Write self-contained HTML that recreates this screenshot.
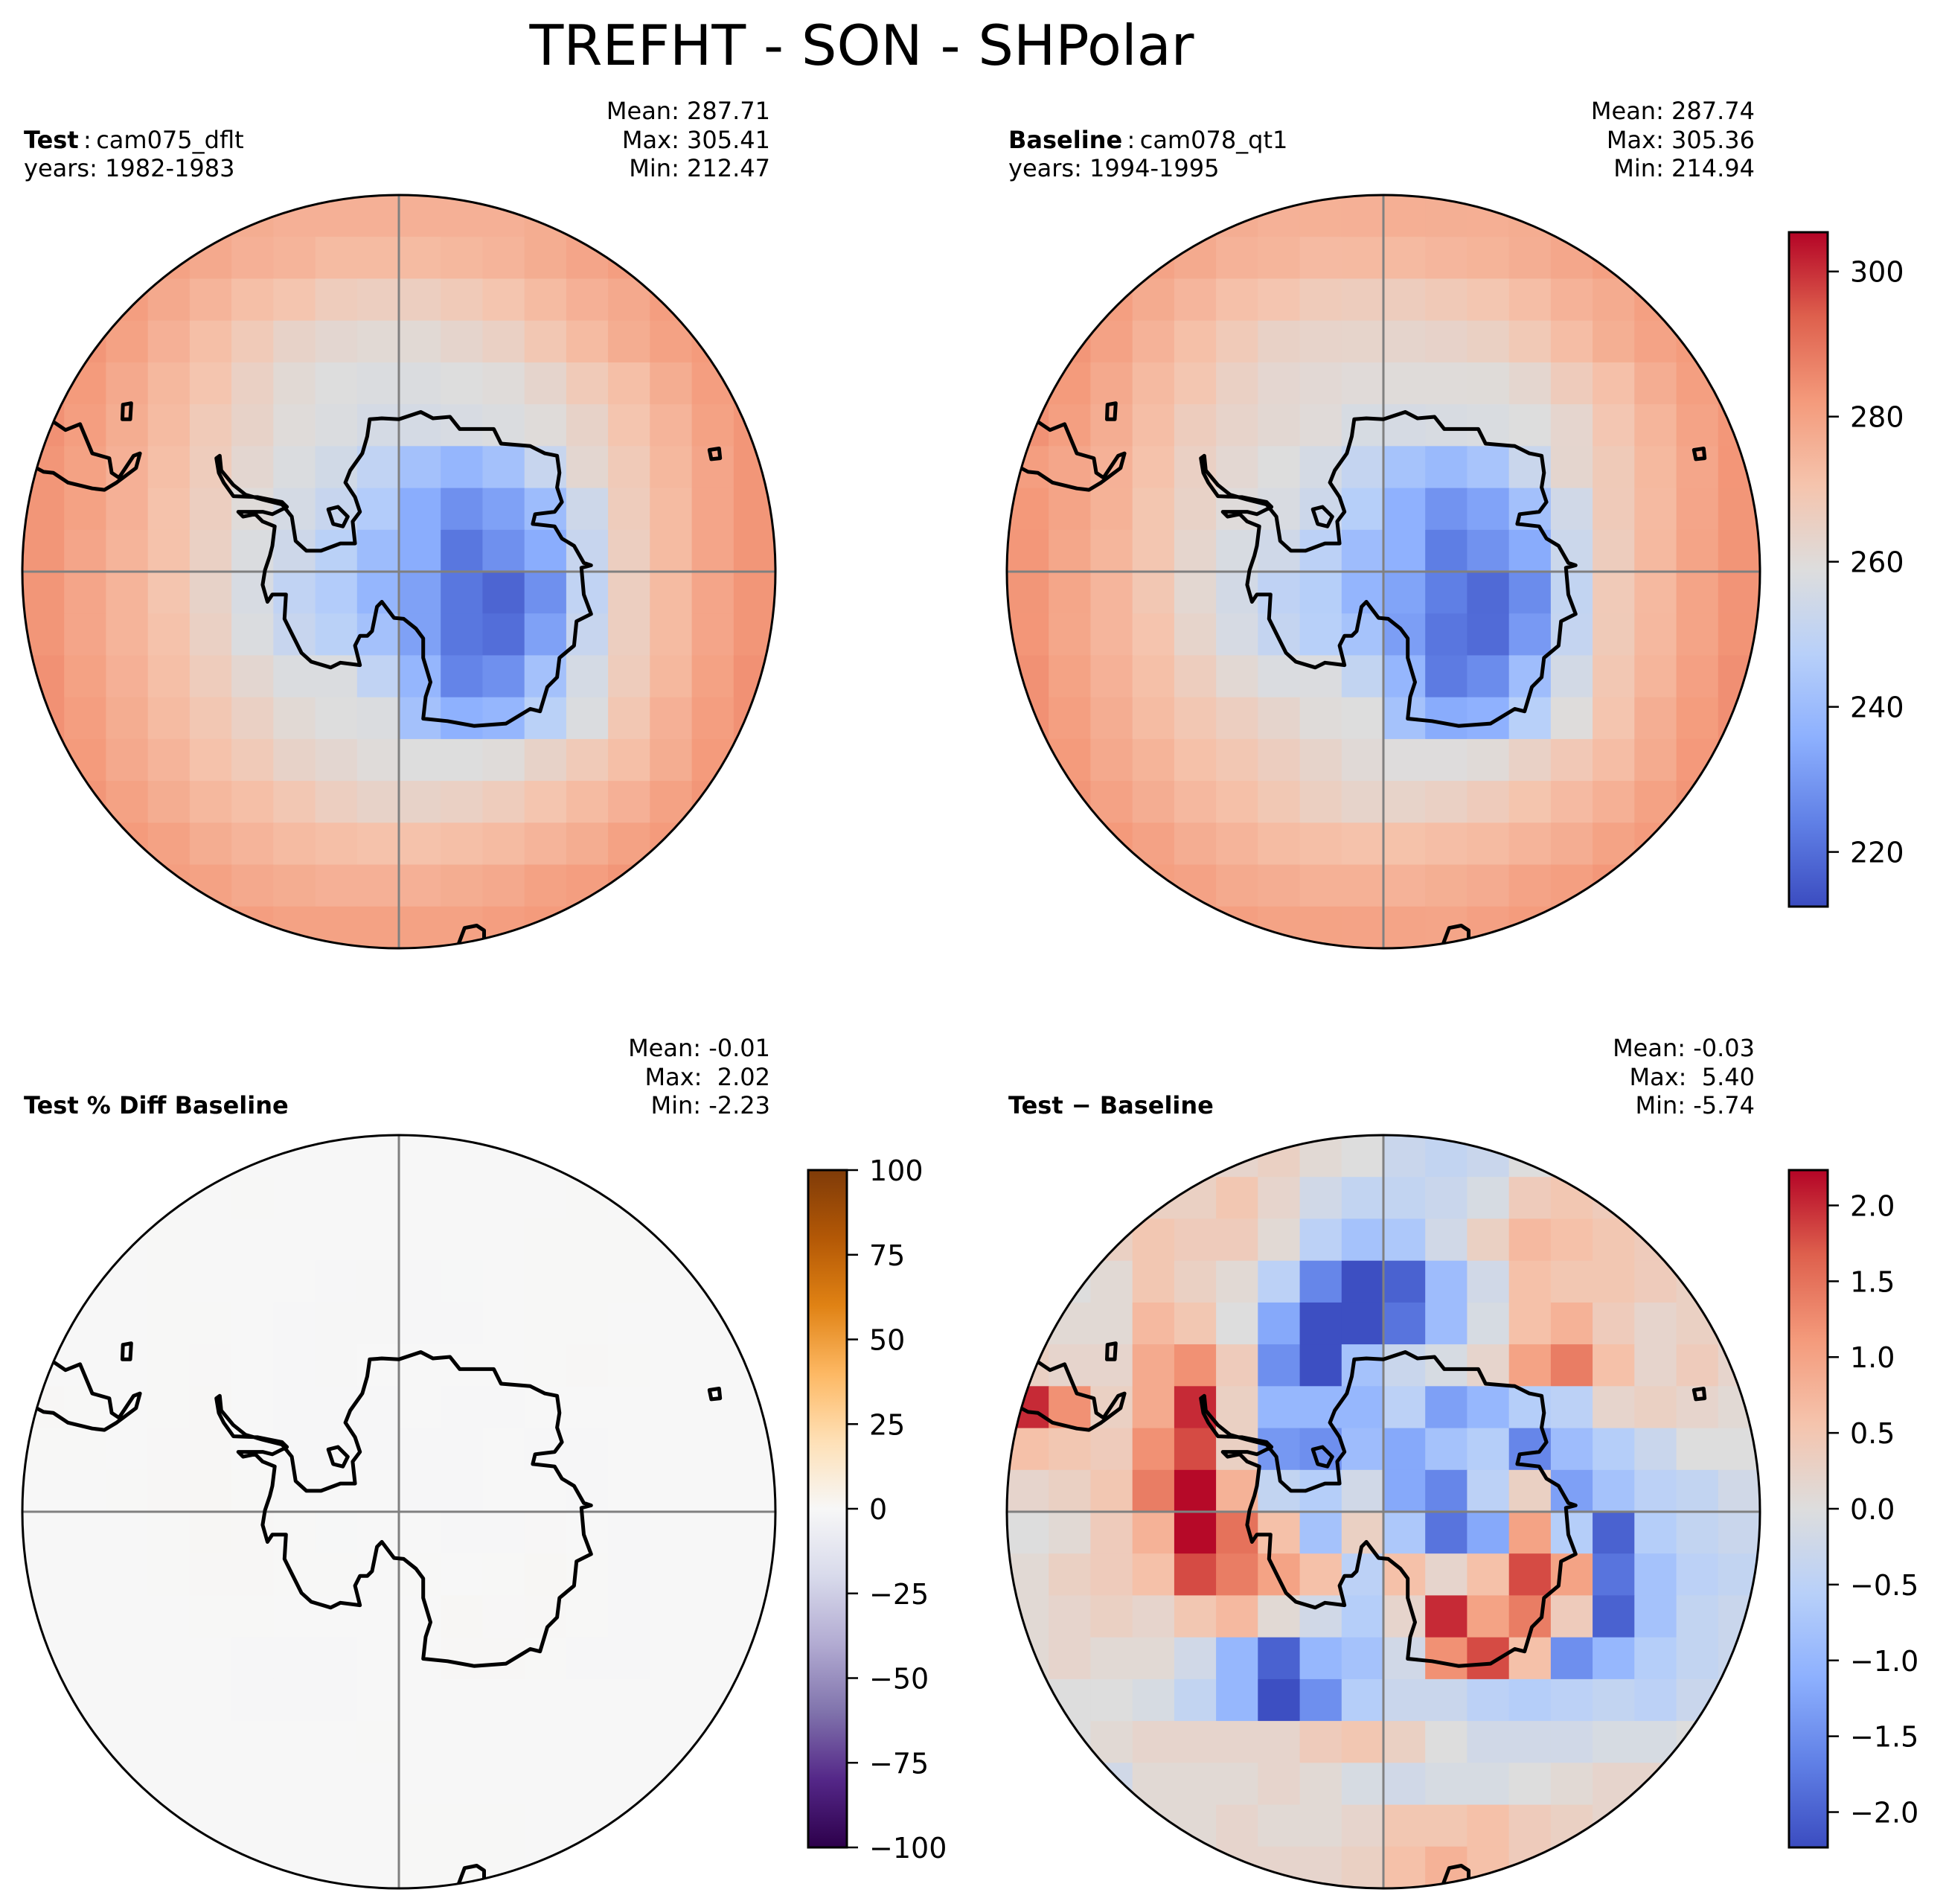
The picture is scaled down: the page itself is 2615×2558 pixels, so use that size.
<!DOCTYPE html>
<html><head><meta charset="utf-8"><style>
html,body{margin:0;padding:0;background:#fff;}
svg{display:block;}
text{font-family:"DejaVu Sans","Liberation Sans",sans-serif;white-space:pre;}
</style></head><body>
<svg id="fig" xmlns="http://www.w3.org/2000/svg" width="2615" height="2558" viewBox="0 0 2615 2558">
<rect width="2615" height="2558" fill="#fff"/>
<text x="1158" y="87" font-size="75" text-anchor="middle">TREFHT - SON - SHPolar</text>
<g id="panels"></g>
</svg>
<script>
// ---- data (18x18 coarse grids, rows top->bottom) ----
const testGrid = [
[282,281,280,279,278,277,276,276,276,276,276,276,277,278,279,280,281,282],
[284,284,284,280,278,276,275,273,273,273,274,275,277,279,281,283,284,284],
[285,285,281,278,275,272,270,267,266,266,268,270,273,276,278,281,283,284],
[286,283,280,276,272,268,264,262,261,261,263,265,269,273,277,280,282,285],
[285,282,278,274,270,265,261,259,258,258,259,260,263,268,272,277,281,284],
[284,281,277,273,268,264,260,258,256,256,257,258,260,264,270,275,280,283],
[283,280,276,272,267,262,258,255,250,242,238,242,252,262,268,274,279,283],
[283,280,276,271,266,260,256,252,246,235,228,232,240,254,267,273,279,283],
[283,279,275,271,265,258,254,248,240,235,222,228,235,252,266,273,279,283],
[283,279,275,270,264,257,250,246,238,232,222,218,228,250,266,273,279,283],
[283,279,275,271,265,258,252,248,242,232,222,220,232,252,266,273,279,283],
[284,280,276,272,267,262,258,258,250,238,225,228,242,256,267,274,280,284],
[284,281,277,273,269,265,261,259,258,242,236,238,248,258,269,276,281,284],
[285,282,278,275,271,268,264,262,260,259,259,260,264,268,272,277,282,285],
[286,283,280,277,274,272,269,266,264,264,265,267,270,273,276,280,283,286],
[286,284,282,280,277,275,273,272,271,271,272,273,275,277,280,282,285,287],
[287,285,283,281,280,278,277,276,276,276,277,278,280,281,283,285,286,287],
[288,287,285,283,282,281,280,280,280,280,280,281,282,283,285,286,287,288]];
const diffGrid = [
[0,0,0,0,0,0.2,0.3,0.1,0,-0.3,-0.4,-0.3,0,0,0,0,0,0],
[0,0,0,0.3,0.3,0.5,0.2,-0.2,-0.4,-0.4,-0.3,-0.1,0.4,0.5,0.4,0.3,0,0],
[0,0.1,0.3,0.5,0.4,0.4,0.1,-0.5,-0.8,-0.7,-0.2,0.3,0.7,0.6,0.5,0.4,0.2,0],
[0,0,0.1,0.5,0.3,0.1,-0.5,-1.6,-2.2,-2.0,-0.9,-0.2,0.6,0.5,0.5,0.4,0.3,0],
[0.2,0.1,0.1,0.7,0.5,0,-1.2,-2.2,-2.2,-1.8,-0.9,-0.1,0.6,0.8,0.4,0.2,0.3,0.1],
[0.3,0.2,0.2,0.9,1.2,0.4,-1.5,-2.2,-0.8,-0.3,-0.1,0.2,1.0,1.4,0.6,0.2,0.4,0.2],
[2.0,1.2,0.3,0.9,2.0,0.3,-1.0,-1.0,-1.0,-0.5,-1.3,-1.0,-0.6,-0.5,0.2,0.3,0.2,0.1],
[0.6,0.5,0.4,1.2,1.8,0.3,-1.4,-1.5,-0.9,-1.2,-0.8,-0.6,-1.6,-0.9,-0.6,-0.3,0,0],
[0.2,0.3,0.5,1.4,2.2,0.8,-0.4,-0.6,-0.2,-1.2,-1.6,-0.5,0.3,-1.3,-0.8,-0.5,-0.4,-0.2],
[0,0.1,0.4,0.8,2.2,1.5,0.6,-0.8,0.3,-0.7,-1.8,-1.2,1.0,-0.6,-2.0,-0.6,-0.4,-0.3],
[0.1,0.3,0.4,0.6,1.8,1.4,1.0,0.6,-0.5,0.6,0.2,0.6,1.8,1.0,-1.8,-0.8,-0.5,-0.4],
[0.1,0.2,0.3,0.2,0.5,0.7,0.1,-0.2,-0.6,0.2,2.0,1.0,1.4,0.4,-2.0,-0.8,-0.4,-0.3],
[0.1,0.2,0.1,0.1,-0.2,-1.0,-2.0,-1.0,-0.8,-0.2,1.2,1.8,0.6,-1.5,-1.0,-0.6,-0.4,-0.3],
[0,0,0,-0.1,-0.4,-1.0,-2.2,-1.5,-0.6,-0.3,-0.3,-0.5,-0.6,-0.5,-0.4,-0.5,-0.3,0],
[0,0,0.1,0.2,0.2,0.2,0.2,0.4,0.5,0.3,0,-0.2,-0.2,-0.2,-0.1,-0.1,0,0],
[0,0,-0.2,0.1,0.1,0.1,0.2,0.1,-0.1,-0.2,-0.1,-0.1,0,0.1,0.2,0.2,0,0],
[0,0,0,0.1,0.1,0.2,0.1,0.1,0.2,0.5,0.5,0.6,0.4,0.3,0.2,0,0,0],
[0,0,0,0,0,0.2,0.2,0.2,0.3,0.6,0.8,0.6,0.4,0,0,0,0,0]];
const absTicks = [220,240,260,280,300];
const absRange = [212.47,305.41];
const pctTicks = [-100,-75,-50,-25,0,25,50,75,100];
const pctRange = [-100,100];
const diffTicks = [-2.0,-1.5,-1.0,-0.5,0.0,0.5,1.0,1.5,2.0];
const diffRange = [-2.233,2.233];

// ---- colormaps ----
const coolwarm=[[59,76,192],[96,128,230],[141,176,254],[184,208,249],[221,221,221],[245,196,173],[244,154,123],[222,96,77],[180,4,38]];
const puorR=[[45,0,75],[84,39,136],[128,115,172],[178,171,210],[216,218,235],[247,247,247],[254,224,182],[253,184,99],[224,130,20],[179,88,6],[127,59,8]];
function cmap(stops,t){t=Math.max(0,Math.min(1,t));const n=stops.length-1;const f=t*n;const i=Math.min(n-1,Math.floor(f));const u=f-i;const a=stops[i],b=stops[i+1];
return 'rgb('+a.map((v,k)=>Math.round(v+(b[k]-v)*u)).join(',')+')';}

const NS='http://www.w3.org/2000/svg';
function mk(tag,attrs,parent){const e=document.createElementNS(NS,tag);for(const k in attrs)e.setAttribute(k,attrs[k]);parent.appendChild(e);return e;}
const root=document.getElementById('panels');
const R=506;
const ant=[[720,470],[745,468],[780,470],[825,455],[850,468],[885,465],[905,490],[975,490],[990,520],[1050,525],[1080,540],[1105,545],[1110,580],[1105,610],[1115,640],[1100,660],[1060,665],[1055,685],[1100,690],[1115,715],[1140,730],[1160,765],[1175,770],[1155,775],[1160,830],[1175,870],[1145,885],[1140,935],[1110,960],[1105,1000],[1085,1020],[1070,1070],[1050,1065],[1000,1095],[935,1100],[880,1090],[830,1085],[835,1040],[845,1010],[830,960],[830,920],[815,900],[790,880],[770,878],[745,845],[735,855],[725,905],[715,915],[700,915],[690,935],[700,975],[660,970],[640,980],[600,968],[580,950],[560,910],[545,880],[548,830],[520,830],[510,845],[500,810],[505,780],[515,750],[520,730],[525,690],[500,680],[485,665],[460,670],[450,660],[500,660],[520,665],[550,650],[540,640],[490,630],[440,628],[420,600],[410,580],[405,550],[412,545],[415,575],[440,605],[465,625],[500,635],[540,645],[560,670],[568,720],[590,740],[620,740],[660,725],[690,725],[685,680],[700,660],[690,630],[670,600],[680,575],[705,540],[715,505]];
const sam=[[70,475],[95,492],[125,480],[150,540],[185,550],[190,580],[205,590],[235,545],[248,540],[240,570],[200,600],[175,615],[150,612],[100,600],[70,580],[50,578],[35,570],[0,560]];
const aus=[[895,1570],[900,1555],[915,1515],[940,1510],[955,1520],[955,1540],[965,1570]];
const isl1=[[213,440],[230,437],[228,470],[212,470]];
const isl2=[[1418,533],[1438,530],[1440,550],[1422,552]];
const isl3=[[635,655],[655,650],[675,670],[665,690],[645,685]];
function pts(arr,cx,cy){return arr.map(p=>((p[0]-780)/1.529+cx).toFixed(1)+','+((p[1]-783)/1.529+cy).toFixed(1)).join(' ');}

function panel(id,cx,cy,grid,colorFn,texts){
  const g=mk('g',{},root);
  
  
  const cp=mk('clipPath',{id:'clip-'+id},g);mk('circle',{cx:cx,cy:cy,r:R},cp);
  const cells=mk('g',{'clip-path':'url(#clip-'+id+')'},g);
  const n=18,cs=2*R/n;
  mk('rect',{x:cx-R,y:cy-R,width:2*R,height:2*R,fill:colorFn(grid(8,8))},cells);
  for(let j=0;j<n;j++)for(let i=0;i<n;i++){
    const r=mk('rect',{x:(cx-R+i*cs).toFixed(1),y:(cy-R+j*cs).toFixed(1),width:(cs+0.6).toFixed(1),height:(cs+0.6).toFixed(1),fill:colorFn(grid(j,i))},cells);
    
    
  }
  mk('line',{x1:cx-R,y1:cy,x2:cx+R,y2:cy,stroke:'#808080','stroke-width':3},cells);
  mk('line',{x1:cx,y1:cy-R,x2:cx,y2:cy+R,stroke:'#808080','stroke-width':3},cells);
  const coast=mk('g',{'clip-path':'url(#clip-'+id+')',fill:'none',stroke:'#000','stroke-width':5,'stroke-linejoin':'round'},g);
  
  
  mk('polygon',{points:pts(ant,cx,cy)},coast);
  mk('polyline',{points:pts(sam,cx,cy)},coast);
  mk('polyline',{points:pts(aus,cx,cy)},coast);
  mk('polygon',{points:pts(isl1,cx,cy)},coast);
  mk('polygon',{points:pts(isl2,cx,cy)},coast);
  mk('polygon',{points:pts(isl3,cx,cy)},coast);
  mk('circle',{cx:cx,cy:cy,r:R,fill:'none',stroke:'#000','stroke-width':3},g);
  const lx=cx-504, rx=cx+499;
  const base=texts.bottom?[1419,1458,1496]:[160,199,237];
  texts.stats.forEach((s,k)=>{const t=mk('text',{x:rx,y:base[k],'font-size':32,'text-anchor':'end'},g);t.textContent=s;
    });
  if(texts.bottom){
    const t=mk('text',{x:lx,y:1496,'font-size':32,'font-weight':'bold'},g);t.textContent=texts.label;
    
  }else{
    const t=mk('text',{x:lx,y:199,'font-size':32},g);
    const b=mk('tspan',{'font-weight':'bold'},t);b.textContent=texts.label;
    const s=mk('tspan',{},t);s.textContent='\u2009:\u2009'+texts.case;
    
    const t2=mk('text',{x:lx,y:237,'font-size':32},g);t2.textContent=texts.years;
    
  }
}
function colorbar(id,x,y0,y1,range,ticks,stops,fmt){
  const g=mk('g',{},root);
  
  
  const gid='grad-'+id;
  const lg=mk('linearGradient',{id:gid,x1:0,y1:1,x2:0,y2:0},g);
  stops.forEach((c,k)=>mk('stop',{offset:k/(stops.length-1),'stop-color':'rgb('+c.join(',')+')'},lg));
  mk('rect',{x:x,y:y0,width:52,height:y1-y0,fill:'url(#'+gid+')',stroke:'#000','stroke-width':3},g);
  const ys=v=>y1-(v-range[0])/(range[1]-range[0])*(y1-y0);
  ticks.forEach(v=>{const y=ys(v);
    mk('line',{x1:x+52,y1:y,x2:x+67,y2:y,stroke:'#000','stroke-width':2.5},g);
    const t=mk('text',{x:x+82,y:y+14,'font-size':38},g);t.textContent=fmt(v);
    });
}
const cw=(lo,hi)=>v=>cmap(coolwarm,(v-lo)/(hi-lo));
const absC=cw(absRange[0],absRange[1]);
panel('test',536,768,(j,i)=>testGrid[j][i],absC,{label:'Test',case:'cam075_dflt',years:'years: 1982-1983',stats:['Mean: 287.71','Max: 305.41','Min: 212.47']});
panel('baseline',1859,768,(j,i)=>testGrid[j][i]-diffGrid[j][i],absC,{label:'Baseline',case:'cam078_qt1',years:'years: 1994-1995',stats:['Mean: 287.74','Max: 305.36','Min: 214.94']});
panel('pct-diff',536,2031,(j,i)=>diffGrid[j][i]/(testGrid[j][i]-diffGrid[j][i])*100,v=>cmap(puorR,(v-pctRange[0])/(pctRange[1]-pctRange[0])),{bottom:true,label:'Test % Diff Baseline',stats:['Mean: -0.01','Max:  2.02','Min: -2.23']});
panel('diff',1859,2031,(j,i)=>diffGrid[j][i],cw(diffRange[0],diffRange[1]),{bottom:true,label:'Test \u2212 Baseline',stats:['Mean: -0.03','Max:  5.40','Min: -5.74']});
const mfmt=s=>s.replace('-','\u2212');
colorbar('abs-colorbar',2404,312,1218,absRange,absTicks,coolwarm,v=>String(v));
colorbar('pct-colorbar',1086,1572,2482,pctRange,pctTicks,puorR,v=>mfmt(String(v)));
colorbar('diff-colorbar',2404,1572,2482,diffRange,diffTicks,coolwarm,v=>mfmt(v.toFixed(1)));
</script>
</body></html>
